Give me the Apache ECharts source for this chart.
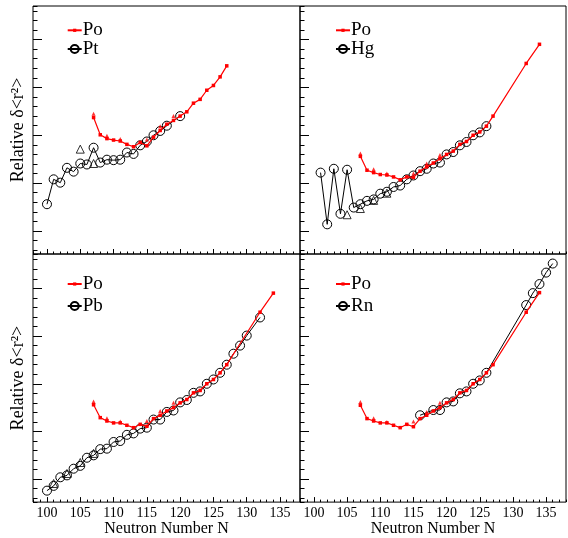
<!DOCTYPE html>
<html><head><meta charset="utf-8">
<script src="https://cdn.jsdelivr.net/npm/echarts@6/dist/echarts.min.js"></script>
<style>html,body{margin:0;padding:0;background:#fff}#c{width:568px;height:538px}</style>
</head><body><div id="c"></div>
<script>
// ---- data ----
const xMajorTicks = [100, 105, 110, 115, 120, 125, 130, 135];
const yMajorTicks = [0, 1, 2, 3, 4];

const poNShort = [107,108,109,110,111,112,113,114,115,116,117,118,119,120,121,122,123,124,125,126,127];
const poNLong  = [107,108,109,110,111,112,113,114,115,116,117,118,119,120,121,122,123,124,125,126,127,132,134];
const poIsoN   = [107,109,111,115,117,119];

const poInPt = [2.37,2.01,1.93,1.90,1.88,1.81,1.76,1.85,1.78,1.96,2.10,2.23,2.31,2.40,2.49,2.67,2.75,2.94,3.04,3.22,3.45];
const poIsoInPt = [2.45,1.99,1.92,1.91,2.19,2.40];
const poInHg = [1.56,1.27,1.22,1.18,1.17,1.13,1.07,1.13,1.12,1.25,1.34,1.42,1.51,1.60,1.67,1.81,1.87,2.00,2.07,2.19,2.40,3.50,3.90];
const poIsoInHg = [1.62,1.29,1.20,1.20,1.41,1.59];
const poInPb = [1.56,1.29,1.22,1.18,1.18,1.13,1.08,1.15,1.11,1.27,1.34,1.43,1.50,1.60,1.67,1.81,1.86,2.00,2.09,2.23,2.40,3.50,3.90];
const poIsoInPb = [1.63,1.28,1.21,1.22,1.43,1.60];
const poInRn = [1.55,1.27,1.22,1.18,1.18,1.13,1.08,1.15,1.10,1.27,1.34,1.43,1.50,1.60,1.67,1.81,1.86,2.00,2.09,2.23,2.40,3.50,3.91];
const poIsoInRn = [1.62,1.28,1.20,1.21,1.41,1.60];

const ptN = [100,101,102,103,104,105,106,107,108,109,110,111,112,113,114,115,116,117,118,120];
const ptV = [0.56,1.08,1.01,1.32,1.24,1.41,1.39,1.74,1.43,1.49,1.48,1.49,1.64,1.61,1.79,1.87,2.00,2.09,2.20,2.40];
const ptIsoN = [105,107];
const ptIsoV = [1.71,1.41];

const hgN = [101,102,103,104,105,106,107,108,109,110,111,112,113,114,115,116,117,118,119,120,121,122,123,124,125,126];
const hgV = [1.22,0.14,1.30,0.36,1.28,0.49,0.56,0.63,0.66,0.78,0.82,0.92,0.95,1.08,1.16,1.25,1.30,1.41,1.43,1.60,1.65,1.79,1.86,2.00,2.06,2.19];
const hgIsoN = [105,107,109,111];
const hgIsoV = [0.34,0.47,0.64,0.79];

const pbN = [100,101,102,103,104,105,106,107,108,109,110,111,112,113,114,115,116,117,118,119,120,121,122,123,124,125,126,127,128,129,130,132];
const pbV = [-0.24,-0.14,0.04,0.08,0.22,0.28,0.45,0.50,0.63,0.64,0.78,0.80,0.93,0.96,1.06,1.08,1.25,1.25,1.41,1.44,1.61,1.66,1.81,1.84,2.00,2.09,2.23,2.40,2.63,2.80,3.01,3.39];
const pbIsoN = [101,103,105,107];
const pbIsoV = [-0.09,0.12,0.35,0.54];

const rnN = [116,118,119,120,121,122,123,124,125,126,132,133,134,135,136];
const rnV = [1.34,1.45,1.45,1.61,1.63,1.80,1.84,2.00,2.07,2.23,3.65,3.90,4.09,4.33,4.52];

// ---- build ----
const zip = (xs, ys) => xs.map((x, i) => [x, ys[i]]);
const SERIF = 'Liberation Serif';

const panels = [
  {el: 'Pt', elN: ptN, elV: ptV, isoN: ptIsoN, isoV: ptIsoV, poN: poNShort, po: poInPt, poIso: poIsoInPt},
  {el: 'Hg', elN: hgN, elV: hgV, isoN: hgIsoN, isoV: hgIsoV, poN: poNLong, po: poInHg, poIso: poIsoInHg},
  {el: 'Pb', elN: pbN, elV: pbV, isoN: pbIsoN, isoV: pbIsoV, poN: poNLong, po: poInPb, poIso: poIsoInPb},
  {el: 'Rn', elN: rnN, elV: rnV, isoN: [], isoV: [], poN: poNLong, po: poInRn, poIso: poIsoInRn}
];

const grid = [
  {left: 33, top: 6, width: 267, height: 248},
  {left: 300, top: 6, width: 266, height: 248},
  {left: 33, top: 254, width: 267, height: 249},
  {left: 300, top: 254, width: 266, height: 249}
].map(g => Object.assign(g, {show: true, borderColor: '#000', borderWidth: 1, backgroundColor: 'transparent'}));

const yRange = [[-0.48, 4.70], [-0.48, 4.70], [-0.48, 4.72], [-0.48, 4.72]];

const xAxis = [], yAxis = [], series = [], legend = [];
const tickLine = {color: '#000', width: 1};
const noLine = {show: false, onZero: false};

for (let g = 0; g < 4; g++) {
  const bottom = g >= 2, left = (g % 2 === 0);
  xAxis.push({
    type: 'value', gridIndex: g, position: 'bottom', min: 97.9, max: 138,
    axisLine: noLine, splitLine: {show: false},
    axisTick: {show: true, inside: true, length: 5, lineStyle: tickLine, customValues: xMajorTicks},
    axisLabel: {show: bottom, customValues: xMajorTicks, fontFamily: SERIF, fontSize: 14, color: '#000', margin: 4},
    name: bottom ? 'Neutron Number N' : '', nameLocation: 'middle', nameGap: 17,
    nameTextStyle: {fontFamily: SERIF, fontSize: 16, color: '#000'}
  });
  xAxis.push({
    type: 'value', gridIndex: g, position: 'bottom', min: 97.9, max: 138, minInterval: 1, maxInterval: 1,
    axisLine: noLine, splitLine: {show: false}, axisLabel: {show: false},
    axisTick: {show: true, inside: true, length: 2.5, lineStyle: tickLine}
  });
  yAxis.push({
    type: 'value', gridIndex: g, position: 'left', min: yRange[g][0], max: yRange[g][1],
    axisLine: noLine, splitLine: {show: false}, axisLabel: {show: false},
    axisTick: {show: true, inside: true, length: 9, lineStyle: tickLine, customValues: yMajorTicks},
    name: left ? 'Relative δ<r²>' : '', nameLocation: 'middle', nameRotate: 90, nameGap: 6,
    nameTextStyle: {fontFamily: SERIF, fontSize: 18, lineHeight: 18, color: '#000'}
  });
  yAxis.push({
    type: 'value', gridIndex: g, position: 'left', min: yRange[g][0], max: yRange[g][1], minInterval: 0.2, maxInterval: 0.2,
    axisLine: noLine, splitLine: {show: false}, axisLabel: {show: false},
    axisTick: {show: true, inside: true, length: 4.5, lineStyle: tickLine}
  });

  const p = panels[g];
  const xi = 2 * g, yi = 2 * g;
  series.push({
    name: p.el, type: 'line', xAxisIndex: xi, yAxisIndex: yi,
    data: zip(p.elN, p.elV), symbol: 'circle', symbolSize: 9, showAllSymbol: true,
    lineStyle: {color: '#000', width: 1},
    itemStyle: {color: 'rgba(0,0,0,0)', borderColor: '#000', borderWidth: 1}, z: 2
  });
  if (p.isoN.length) series.push({
    name: p.el + ' isomer', type: 'scatter', xAxisIndex: xi, yAxisIndex: yi,
    data: zip(p.isoN, p.isoV), symbol: 'triangle', symbolSize: 8,
    itemStyle: {color: 'rgba(0,0,0,0)', borderColor: '#000', borderWidth: 1}, z: 2
  });
  series.push({
    name: 'Po', type: 'line', xAxisIndex: xi, yAxisIndex: yi,
    data: zip(p.poN, p.po), symbol: 'rect', symbolSize: 3.5, showAllSymbol: true,
    lineStyle: {color: '#ff0000', width: 1.2},
    itemStyle: {color: '#ff0000'}, z: 3
  });
  series.push({
    name: 'Po isomer', type: 'scatter', xAxisIndex: xi, yAxisIndex: yi,
    data: zip(poIsoN, p.poIso), symbol: 'triangle', symbolSize: 4,
    itemStyle: {color: '#ff0000'}, z: 3
  });

  const lx = left ? 66.7 : 335;
  const c1 = bottom ? 284 : 30.3;
  const c2 = bottom ? 306 : 49;
  const txt = {fontFamily: SERIF, fontSize: 19, lineHeight: 20, color: '#000', padding: [0, 0, 0, -4]};
  legend.push({data: ['Po'], left: lx, top: c1 - 10, padding: 0, itemWidth: 14, itemHeight: 4,
    selectedMode: false, textStyle: txt});
  legend.push({data: [p.el], left: lx, top: c2 - 10, padding: 0, itemWidth: 14, itemHeight: 10,
    selectedMode: false, textStyle: txt});
}

const chart = echarts.init(document.getElementById('c'), null, {renderer: 'canvas'});
chart.setOption({animation: false, backgroundColor: '#fff', grid, xAxis, yAxis, series, legend});
</script>
</body></html>
